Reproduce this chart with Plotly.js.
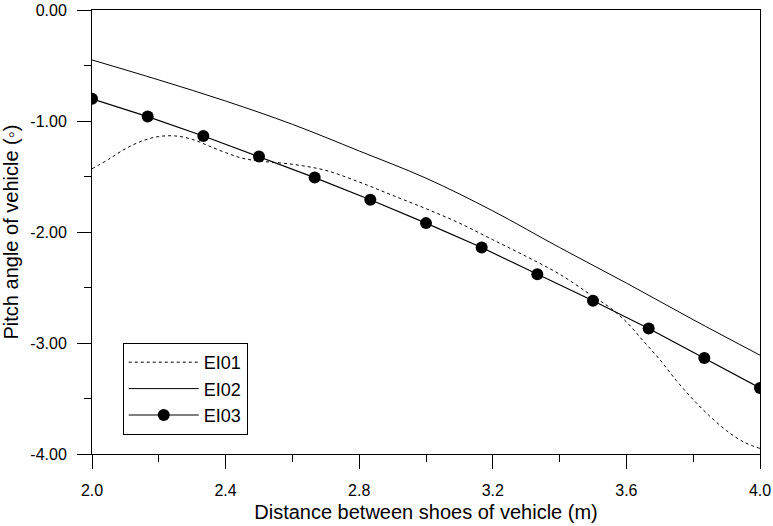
<!DOCTYPE html>
<html>
<head>
<meta charset="utf-8">
<script src="https://cdn.plot.ly/plotly-3.0.1.min.js"></script>
<style>html,body{margin:0;padding:0;background:#fff;}#chart{width:773px;height:526px;}</style>
</head>
<body>
<div id="chart"></div>
<script>
// EI01 (dashed)
var ei01X = [2.0,2.05,2.1,2.15,2.2,2.25,2.3,2.35,2.4,2.45,2.5,2.6,2.7,2.8,2.9,3.0,3.1,3.2,3.3,3.4,3.5,3.55,3.6,3.65,3.7,3.75,3.8,3.85,3.9,3.95,4.0];
var ei01Y = [-1.43,-1.345,-1.25,-1.18,-1.14,-1.135,-1.165,-1.225,-1.285,-1.335,-1.36,-1.39,-1.445,-1.55,-1.67,-1.79,-1.92,-2.07,-2.22,-2.38,-2.58,-2.68,-2.81,-2.98,-3.15,-3.34,-3.51,-3.66,-3.79,-3.89,-3.95];
// EI02 (solid)
var ei02X = [2.0,2.2,2.4,2.6,2.8,3.0,3.2,3.4,3.6,3.8,4.0];
var ei02Y = [-0.45,-0.63,-0.82,-1.03,-1.27,-1.515,-1.81,-2.14,-2.46,-2.79,-3.11];
// EI03 (solid with markers)
var ei03X = [2.0,2.1667,2.3333,2.5,2.6667,2.8333,3.0,3.1667,3.3333,3.5,3.6667,3.8333,4.0];
var ei03Y = [-0.80,-0.96,-1.135,-1.32,-1.51,-1.71,-1.92,-2.14,-2.38,-2.62,-2.87,-3.135,-3.405];

// tick labels
var xTickVals = [2.0,2.4,2.8,3.2,3.6,4.0];
var xTickText = ['2.0','2.4','2.8','3.2','3.6','4.0'];
var xMinorVals = [2.2,2.6,3.0,3.4,3.8];
var yTickVals = [0,-1,-2,-3,-4];
var yTickText = ['0.00','-1.00','-2.00','-3.00','-4.00'];
var yMinorVals = [-0.5,-1.5,-2.5,-3.5];

var font = "Liberation Sans, Arial, sans-serif";
var traces = [
  {x: ei01X, y: ei01Y, name: 'EI01', mode: 'lines', line: {color: '#000', width: 1, dash: '3px,3px', shape: 'spline'}},
  {x: ei02X, y: ei02Y, name: 'EI02', mode: 'lines', line: {color: '#000', width: 1, shape: 'spline'}},
  {x: ei03X, y: ei03Y, name: 'EI03', mode: 'lines+markers', line: {color: '#000', width: 1.2}, marker: {color: '#000', size: 12}}
];
var layout = {
  width: 773, height: 526,
  margin: {l: 92, r: 13, t: 10, b: 72},
  paper_bgcolor: '#fff', plot_bgcolor: '#fff',
  font: {family: font, color: '#000', size: 16},
  showlegend: true,
  legend: {x: 0.046, y: 0.25, xanchor: 'left', yanchor: 'top', bordercolor: '#000', borderwidth: 1,
           bgcolor: '#fff', font: {family: font, size: 18, color: '#000'}, itemwidth: 70, tracegroupgap: 0},
  xaxis: {
    range: [2.0, 4.0], tickmode: 'array', tickvals: xTickVals, ticktext: xTickText,
    ticks: 'outside', ticklen: 14, tickwidth: 1, tickcolor: '#000',
    minor: {tickvals: xMinorVals, ticks: 'outside', ticklen: 7, tickwidth: 1, tickcolor: '#000', showgrid: false},
    showline: true, linecolor: '#000', linewidth: 1, mirror: true, showgrid: false, zeroline: false,
    ticklabelstandoff: 8,
    title: {text: 'Distance between shoes of vehicle (m)', font: {family: font, size: 20, color: '#000'}, standoff: 6}
  },
  yaxis: {
    range: [-4.0, 0.0], tickmode: 'array', tickvals: yTickVals, ticktext: yTickText,
    ticks: 'outside', ticklen: 14, tickwidth: 1, tickcolor: '#000',
    minor: {tickvals: yMinorVals, ticks: 'outside', ticklen: 7, tickwidth: 1, tickcolor: '#000', showgrid: false},
    showline: true, linecolor: '#000', linewidth: 1, mirror: true, showgrid: false, zeroline: false,
    ticklabelstandoff: 7,
    title: {text: 'Pitch angle of vehicle (\u25e6)', font: {family: font, size: 20, color: '#000'}, standoff: 6}
  }
};
Plotly.newPlot('chart', traces, layout, {staticPlot: true, displayModeBar: false});
</script>
</body>
</html>
